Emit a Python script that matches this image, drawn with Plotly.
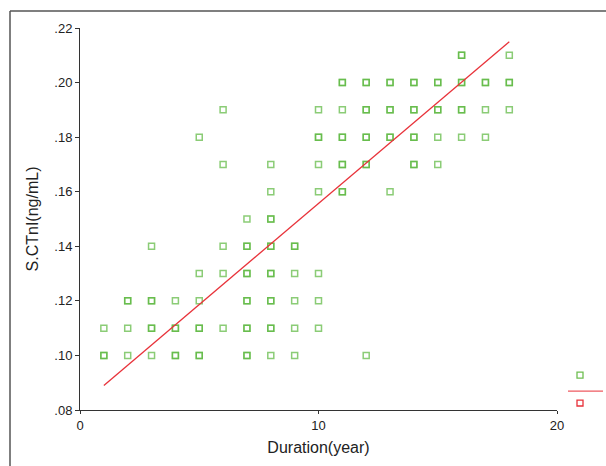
import plotly.graph_objects as go

# Observed points (duration in years, S.CTnI in ng/mL, number of overlapping cases)
duration = [1, 1,
            2, 2, 2,
            3, 3, 3, 3,
            4, 4, 4,
            5, 5, 5, 5, 5,
            6, 6, 6, 6, 6,
            7, 7, 7, 7, 7, 7,
            8, 8, 8, 8, 8, 8, 8, 8,
            9, 9, 9, 9, 9,
            10, 10, 10, 10, 10, 10, 10,
            11, 11, 11, 11, 11,
            12, 12, 12, 12, 12,
            13, 13, 13, 13,
            14, 14, 14, 14,
            15, 15, 15, 15,
            16, 16, 16, 16,
            17, 17, 17,
            18, 18, 18]
ctni = [.10, .11,
        .10, .11, .12,
        .10, .11, .12, .14,
        .10, .11, .12,
        .10, .11, .12, .13, .18,
        .11, .13, .14, .17, .19,
        .10, .11, .12, .13, .14, .15,
        .10, .11, .12, .13, .14, .15, .16, .17,
        .10, .11, .12, .13, .14,
        .11, .12, .13, .16, .17, .18, .19,
        .16, .17, .18, .19, .20,
        .10, .17, .18, .19, .20,
        .16, .18, .19, .20,
        .17, .18, .19, .20,
        .17, .18, .19, .20,
        .18, .19, .20, .21,
        .18, .19, .20,
        .19, .20, .21]
count = [2, 1,
         1, 1, 2,
         1, 2, 2, 1,
         2, 2, 1,
         2, 2, 1, 1, 1,
         1, 1, 1, 1, 1,
         2, 2, 2, 2, 2, 1,
         1, 2, 2, 2, 2, 2, 1, 1,
         1, 1, 1, 1, 2,
         1, 1, 1, 1, 1, 2, 1,
         2, 2, 2, 1, 2,
         1, 2, 2, 2, 2,
         1, 2, 2, 2,
         2, 2, 2, 2,
         1, 1, 2, 2,
         1, 2, 2, 2,
         1, 1, 2,
         1, 2, 1]

# Linear fit line
fit_x = [1, 18]
fit_y = [0.089, 0.215]

x_ticks = [0, 10, 20]
y_ticks = [0.08, 0.10, 0.12, 0.14, 0.16, 0.18, 0.20, 0.22]
y_tick_text = [".08", ".10", ".12", ".14", ".16", ".18", ".20", ".22"]

xs, ys = [], []
for xv, yv, c in zip(duration, ctni, count):
    for _ in range(c):
        xs.append(xv)
        ys.append(yv)

green = "rgba(90,182,60,0.7)"
red = "#e8323a"

fig = go.Figure()
fig.add_trace(go.Scatter(
    x=xs, y=ys, mode="markers",
    marker=dict(symbol="square-open", size=6, color=green,
                line=dict(width=1.5, color=green)),
    showlegend=False, hoverinfo="x+y"))
fig.add_trace(go.Scatter(
    x=fit_x, y=fit_y, mode="lines",
    line=dict(color=red, width=1.3), showlegend=False))

font_family = "Liberation Sans, Arial, sans-serif"
axis_common = dict(showline=True, linecolor="#333", linewidth=1, ticks="outside",
                   tickcolor="#333", showgrid=False, zeroline=False,
                   tickfont=dict(size=13, color="#222", family=font_family))

fig.update_xaxes(range=[0, 20], tickvals=x_ticks, ticklen=3,
                 title=dict(text="Duration(year)", font=dict(size=16, color="#222"), standoff=10),
                 **axis_common)
fig.update_yaxes(range=[0.08, 0.22], tickvals=y_ticks, ticktext=y_tick_text, ticklen=4,
                 title=dict(text="S.CTnI(ng/mL)", font=dict(size=16, color="#222"), standoff=11),
                 **axis_common)

# plot area: px x 80..557, y 28..412
W, H = 606, 466
L, R, T, B = 80, 49, 28, 54
pw, ph = W - L - R, H - T - B

def px(xp):
    return (xp - L) / pw

def py(yp):
    return (H - B - yp) / ph

shapes = [
    # outer frame (left and top edges visible)
    dict(type="line", xref="paper", yref="paper", x0=px(10), x1=px(10),
         y0=py(470), y1=py(11), line=dict(color="#555", width=1.5)),
    dict(type="line", xref="paper", yref="paper", x0=px(10), x1=px(610),
         y0=py(11), y1=py(11), line=dict(color="#555", width=1.5)),
    # legend glyphs (clipped at right edge)
    dict(type="rect", xref="paper", yref="paper", x0=px(577), x1=px(583),
         y0=py(380), y1=py(374), line=dict(color="rgba(110,190,80,1)", width=1.3)),
    dict(type="line", xref="paper", yref="paper", x0=px(568), x1=px(603),
         y0=py(393), y1=py(393), line=dict(color="#ee5a60", width=1.3)),
    dict(type="rect", xref="paper", yref="paper", x0=px(577), x1=px(583),
         y0=py(408), y1=py(402), line=dict(color=red, width=1.3)),
]

fig.update_layout(
    width=W, height=H,
    margin=dict(l=L, r=R, t=T, b=B),
    paper_bgcolor="white", plot_bgcolor="white",
    font=dict(family=font_family, color="#222"),
    shapes=shapes,
)

fig.write_html("out.html",
               config={"displayModeBar": False},
               post_script="document.body.style.margin='0';document.body.style.overflow='hidden';")
